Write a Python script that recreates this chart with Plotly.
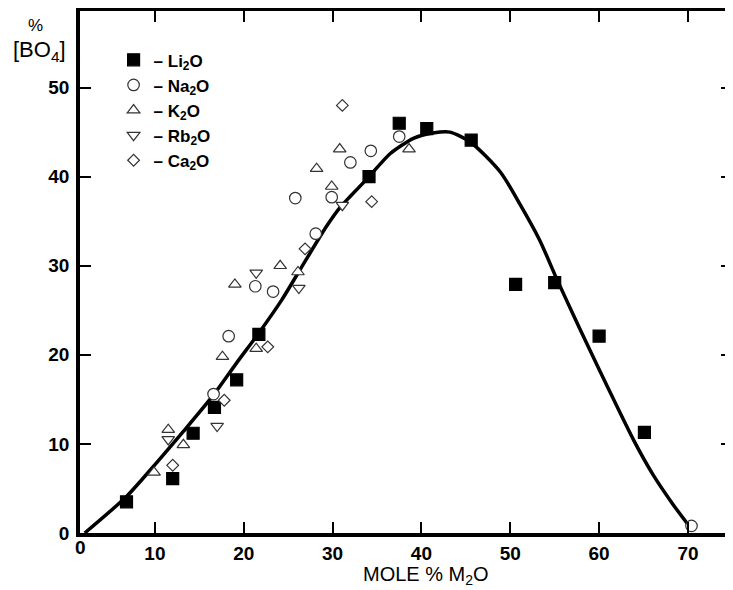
import plotly.graph_objects as go

# ---- data ----
li_x = [6.8, 12.0, 14.3, 16.7, 19.2, 21.7, 34.1, 37.5, 40.6, 45.6, 50.6, 55.0, 60.0, 65.1]
li_y = [3.5, 6.1, 11.2, 14.1, 17.2, 22.3, 40.0, 46.0, 45.4, 44.1, 27.9, 28.1, 22.1, 11.3]

na_x = [16.6, 18.3, 21.3, 23.3, 25.8, 28.1, 29.9, 32.0, 34.3, 37.5, 70.4]
na_y = [15.6, 22.1, 27.7, 27.1, 37.6, 33.6, 37.7, 41.6, 42.9, 44.5, 0.8]

k_x = [9.9, 11.5, 13.2, 17.6, 19.0, 21.4, 24.1, 26.1, 28.2, 29.9, 30.8, 38.6]
k_y = [6.8, 11.6, 9.9, 19.8, 27.9, 20.7, 30.0, 29.3, 40.9, 38.9, 43.1, 43.1]

rb_x = [11.5, 17.0, 21.4, 26.2, 31.1]
rb_y = [10.5, 12.0, 29.2, 27.5, 36.8]

ca_x = [12.0, 17.8, 22.7, 26.9, 31.1, 34.4]
ca_y = [7.6, 14.9, 20.9, 31.9, 48.0, 37.2]

curve_x = [2.1, 6.8, 10.2, 13.2, 16.6, 19.2, 21.8, 24.3, 26.3, 29.3, 30.8, 32.0, 34.1,
           36.5, 39.1, 41.3, 43.2, 45.5, 48.9, 51.1, 53.3, 55.2, 57.0, 58.6, 60.9, 63.9,
           66.1, 68.4, 70.2]
curve_y = [0.0, 4.1, 7.9, 11.4, 15.5, 19.1, 22.6, 26.2, 29.5, 34.4, 36.5, 37.8, 40.0,
           42.6, 44.3, 44.9, 45.0, 43.9, 40.5, 36.9, 32.9, 28.6, 24.7, 21.3, 16.5, 10.4,
           6.5, 3.1, 0.7]

x_ticks = [10, 20, 30, 40, 50, 60, 70]
y_ticks = [0, 10, 20, 30, 40, 50]

series = [
    ("– Li<sub>2</sub>O", li_x, li_y, "square", 12, "black", "black"),
    ("– Na<sub>2</sub>O", na_x, na_y, "circle", 11.5, "white", "#333"),
    ("– K<sub>2</sub>O", k_x, k_y, "triangle-up", 11, "white", "#333"),
    ("– Rb<sub>2</sub>O", rb_x, rb_y, "triangle-down", 11, "white", "#333"),
    ("– Ca<sub>2</sub>O", ca_x, ca_y, "diamond", 9, "white", "#333"),
]

FONT = "Liberation Sans, Arial, sans-serif"

fig = go.Figure()
fig.add_trace(go.Scatter(x=curve_x, y=curve_y, mode="lines", showlegend=False,
                         line=dict(color="black", width=3.5, shape="spline", smoothing=0.7),
                         hoverinfo="skip"))
for name, xs, ys, sym, size, fill, lc in series:
    fig.add_trace(go.Scatter(x=xs, y=ys, mode="markers", name=name,
                             marker=dict(symbol=sym, size=size, color=fill,
                                         line=dict(color=lc, width=1.2))))

axis_common = dict(showgrid=False, zeroline=False, showline=True, linecolor="black",
                   linewidth=3.5, mirror="ticks", ticks="inside", ticklen=11,
                   tickwidth=2, tickcolor="black", automargin=False,
                   tickfont=dict(family=FONT, size=19, color="black", weight="bold"))

fig.update_xaxes(range=[1.565, 74.96], tickvals=x_ticks, ticklabelstandoff=0, **axis_common)
fig.update_yaxes(range=[0, 58.6], tickvals=y_ticks, ticklabelstandoff=3, **axis_common)

# the page body adds an 8px offset, so the figure is sized/margined to compensate
fig.update_layout(
    width=725, height=582,
    margin=dict(l=72, r=1, t=3, b=56.5, autoexpand=False),
    plot_bgcolor="white", paper_bgcolor="white",
    showlegend=True,
    legend=dict(x=0.0515, y=0.94, xanchor="left", yanchor="top",
                bgcolor="rgba(0,0,0,0)", itemwidth=30,
                font=dict(family=FONT, size=17, color="black", weight="bold")),
    annotations=[
        dict(text="MOLE % M<sub>2</sub>O", xref="paper", yref="paper", x=0.53, y=-0.0813,
             xanchor="center", yanchor="middle", showarrow=False,
             font=dict(family=FONT, size=20, color="black")),
        dict(text="%", xref="paper", yref="paper", x=(35 - 80) / 652, y=(533.5 - 26) / 522.5,
             xanchor="center", yanchor="middle", showarrow=False,
             font=dict(family=FONT, size=17, color="black")),
        dict(text="[BO<sub>4</sub>]", xref="paper", yref="paper", x=(39 - 80) / 652,
             y=(533.5 - 51) / 522.5, xanchor="center", yanchor="middle", showarrow=False,
             font=dict(family=FONT, size=22, color="black")),
        dict(text="0", xref="paper", yref="paper", x=0, y=(533.5 - 548) / 522.5,
             xanchor="center", yanchor="middle", showarrow=False,
             font=dict(family=FONT, size=19, color="black", weight="bold")),
    ],
)

fig.write_html("out.html")
